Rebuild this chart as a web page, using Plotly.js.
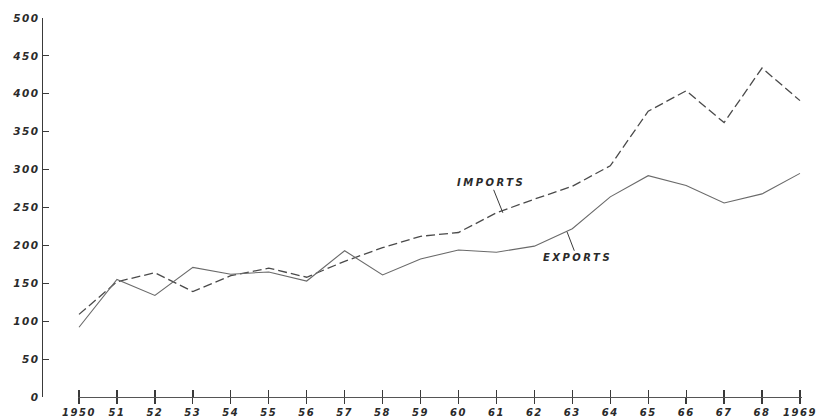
<!DOCTYPE html>
<html>
<head>
<meta charset="utf-8">
<script src="https://cdn.plot.ly/plotly-3.0.1.min.js"></script>
<style>
  html, body { margin: 0; padding: 0; background: #fff; }
  #chart { width: 824px; height: 420px; }
  .xtick text, .ytick text, .x2tick text { letter-spacing: 1.5px; }
  .annotation-text { letter-spacing: 2.5px; }
</style>
</head>
<body>
<div id="chart"></div>
<script>
// Data
const years = [1950, 1951, 1952, 1953, 1954, 1955, 1956, 1957, 1958, 1959,
               1960, 1961, 1962, 1963, 1964, 1965, 1966, 1967, 1968, 1969];
const yearLabels = ["1950", "51", "52", "53", "54", "55", "56", "57", "58", "59",
                    "60", "61", "62", "63", "64", "65", "66", "67", "68", "1969"];
const imports = [109, 152, 164, 139, 160, 170, 158, 179, 197, 212,
                 217, 243, 261, 278, 305, 377, 404, 362, 434, 391];
const exports = [92, 155, 134, 171, 162, 165, 153, 193, 161, 182,
                 194, 191, 199, 222, 264, 292, 279, 256, 268, 295];
const yTicks = [0, 50, 100, 150, 200, 250, 300, 350, 400, 450, 500];

const ink = '#3a3a3a';
const yTickFont = { family: 'DejaVu Sans', size: 10.5, color: '#2a2a2a', weight: 'bold', style: 'italic' };
const xTickFont = { family: 'DejaVu Sans', size: 10, color: '#2a2a2a', weight: 'bold', style: 'italic' };
const labelFont = { family: 'DejaVu Sans', size: 10, color: '#2a2a2a', weight: 'bold', style: 'italic' };

const traces = [
  { x: years, y: imports, type: 'scatter', mode: 'lines', name: 'IMPORTS',
    line: { color: '#4a4a4a', width: 1.3, dash: '9px,4px' }, hoverinfo: 'skip' },
  { x: years, y: exports, type: 'scatter', mode: 'lines', name: 'EXPORTS',
    line: { color: '#6a6a6a', width: 1.1 }, hoverinfo: 'skip' },
  // empty trace so the separate year axis (x2) is built
  { x: [], y: [], xaxis: 'x2', yaxis: 'y', type: 'scatter', mode: 'lines', showlegend: false, hoverinfo: 'skip' }
];

const layout = {
  width: 824, height: 420,
  margin: { l: 43, r: 22, t: 18, b: 23 },
  paper_bgcolor: '#ffffff', plot_bgcolor: 'rgba(0,0,0,0)',
  showlegend: false,
  // primary x axis: full width, carries the data and the upper half of each year tick
  xaxis: {
    domain: [0, 1],
    range: [1949.051, 1969.053],
    anchor: 'y',
    tickmode: 'array', tickvals: years,
    ticks: 'inside', ticklen: 7, tickwidth: 1.3, tickcolor: ink,
    showticklabels: false, showline: false,
    showgrid: false, zeroline: false
  },
  // year axis: starts at 1950, carries the line, lower tick half and labels
  xaxis2: {
    domain: [0.0461, 1],
    range: [1949.974, 1969.053],
    anchor: 'y',
    tickmode: 'array', tickvals: years, ticktext: yearLabels,
    ticks: 'outside', ticklen: 6, tickwidth: 1.3, tickcolor: ink,
    showline: true, linecolor: '#555', linewidth: 1,
    showgrid: false, zeroline: false,
    tickfont: xTickFont, automargin: false
  },
  yaxis: {
    anchor: 'x',
    range: [0, 500],
    tickmode: 'array', tickvals: yTicks,
    ticks: 'inside', ticklen: 6, tickwidth: 1, tickcolor: ink,
    showline: true, linecolor: ink, linewidth: 1.3,
    showgrid: false, zeroline: false,
    tickfont: yTickFont, automargin: false
  },
  annotations: [
    { x: 1961.17, y: 243, xref: 'x', yref: 'y', text: 'IMPORTS',
      showarrow: true, arrowhead: 0, arrowwidth: 1, arrowcolor: ink,
      ax: -12, ay: -30, standoff: 0, font: labelFont },
    { x: 1962.86, y: 218, xref: 'x', yref: 'y', text: 'EXPORTS',
      showarrow: true, arrowhead: 0, arrowwidth: 1, arrowcolor: ink,
      ax: 10, ay: 26, standoff: 0, font: labelFont }
  ]
};

Plotly.newPlot('chart', traces, layout, { staticPlot: true, displayModeBar: false });
</script>
</body>
</html>
